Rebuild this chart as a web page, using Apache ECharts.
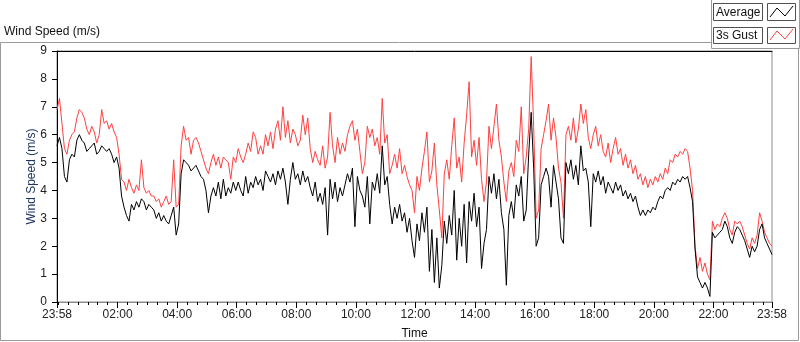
<!DOCTYPE html>
<html>
<head>
<meta charset="utf-8">
<title>Wind Speed</title>
<script src="https://cdn.jsdelivr.net/npm/echarts@6/dist/echarts.min.js"></script>
<style>
  html, body { margin: 0; padding: 0; background: #fff; }
  #chart { width: 800px; height: 342px; }
</style>
</head>
<body>
<div id="chart"></div>
<script>
// one sample every 5 minutes, starting at 23:58 the day before
const stepMinutes = 5
const startClock = '23:58'
const timeLabels = ['23:58', '02:00', '04:00', '06:00', '08:00', '10:00', '12:00',
  '14:00', '16:00', '18:00', '20:00', '22:00', '23:58']
const seriesNames = ['Average', '3s Gust']

const avgSpeed = [
  5.6, 5.9, 5.5, 4.5, 4.3, 5.1, 5.3, 5.2, 5.8, 6.0,
  5.8, 5.7, 5.4, 5.5, 5.6, 5.7, 5.3, 5.4, 5.6, 5.5,
  5.4, 5.5, 5.3, 5.0, 5.2, 4.8, 3.8, 3.4, 3.1, 2.9,
  3.5, 3.3, 3.6, 3.4, 3.7, 3.6, 3.3, 3.5, 3.4, 3.3,
  3.0, 3.2, 2.9, 3.1, 2.9, 2.8, 3.1, 3.4,
  2.4, 2.8, 4.6, 5.1, 5.0, 4.9, 4.7, 4.8, 4.9, 4.7,
  4.5, 4.4, 4.0, 3.2, 3.8, 4.1, 3.8, 4.3, 3.7, 4.4,
  3.8, 4.1, 3.9, 4.3, 4.0, 4.3, 4.0, 3.8, 4.5, 3.9,
  4.3, 4.1, 4.5, 4.2, 4.4, 4.0, 4.7, 4.5, 4.3, 4.6,
  4.2, 4.7, 4.4, 4.8, 4.3, 3.5, 4.4, 5.0,
  4.4, 4.6, 4.2, 4.7, 4.3, 4.5, 4.1, 3.8, 4.3, 3.6,
  3.9, 3.5, 4.1, 2.4, 4.4, 3.7, 4.3, 3.6, 4.1, 3.8,
  4.2, 4.6, 4.3, 4.8, 2.7, 4.5, 4.0, 3.8, 3.4, 4.5,
  2.8, 4.3, 4.0, 4.6, 3.9, 5.6, 4.2, 4.5, 3.5, 2.8,
  3.4, 3.0, 3.5, 2.9, 3.2, 2.5, 3.0, 2.2, 1.6,
  2.8, 2.2, 3.2, 2.5, 3.4, 1.1, 2.6, 0.7, 2.3, 0.5,
  1.3, 2.9, 2.1, 3.1, 2.4, 4.0, 1.5, 3.0, 2.0, 3.5,
  1.4, 3.6, 2.9, 3.9, 2.7, 3.4, 1.2, 2.1, 2.6, 4.5,
  3.9, 4.6, 3.7, 4.4, 3.2, 2.6, 0.6, 3.1, 3.6, 3.0,
  4.2, 3.8, 4.5, 2.9, 3.3, 5.3, 6.8, 4.8,
  2.0, 2.3, 4.2, 4.5, 4.8, 4.5, 3.4, 4.9, 4.3, 3.7,
  2.3, 2.1, 5.0, 4.6, 5.1, 4.4, 4.9, 4.2, 5.6, 4.7,
  4.8, 4.3, 2.7, 4.6, 4.3, 4.7, 4.2, 4.5, 3.9, 4.3,
  4.1, 3.9, 4.3, 4.0, 4.2, 3.8, 4.0, 3.7, 3.9, 3.6,
  3.8, 3.4, 3.1, 3.3, 3.1, 3.3, 3.2, 3.4,
  3.3, 3.6, 3.8, 3.7, 4.0, 4.1, 4.0, 4.3, 4.2, 4.4,
  4.3, 4.5, 4.4, 4.5, 4.1, 3.6, 1.9, 0.9, 0.7, 0.5,
  0.7, 0.5, 0.2, 2.5, 2.3, 2.4, 2.5, 2.6, 2.9, 2.7,
  2.3, 2.1, 2.5, 2.7, 2.6, 2.4, 2.2, 1.9, 1.6, 2.0,
  1.8, 2.0, 2.6, 2.8, 2.3, 2.1, 1.9, 1.7
]

const gustSpeed = [
  6.9, 7.3, 6.4, 5.5, 5.3, 5.8, 6.0, 6.1, 6.6, 6.9,
  6.8, 6.6, 6.2, 6.0, 6.3, 6.1, 5.7, 6.0, 6.9, 6.4,
  6.5, 6.2, 6.4, 6.1, 5.9, 5.3, 4.4, 4.3, 4.0, 4.4,
  4.1, 3.9, 4.2, 4.0, 5.1, 4.1, 3.9, 4.0, 3.8, 3.8,
  3.6, 3.7, 3.4, 3.6, 3.8, 3.5, 3.6, 5.1,
  3.4, 3.5, 5.6, 6.3, 5.8, 5.9, 5.3, 5.8, 5.9, 5.7,
  5.4, 5.1, 4.8, 4.6, 5.0, 5.3, 4.9, 5.2, 4.8, 5.2,
  5.1, 5.0, 4.4, 5.2, 5.0, 5.5, 5.2, 5.0, 5.3, 5.7,
  5.4, 6.1, 5.9, 5.3, 5.6, 5.3, 6.0, 5.6, 6.1, 5.5,
  6.2, 6.5, 5.8, 7.0, 5.9, 6.5, 5.7, 6.2,
  6.0, 5.6, 5.8, 6.7, 6.0, 6.6, 5.5, 5.0, 5.4, 5.1,
  4.9, 5.6, 4.8, 5.2, 6.8, 5.6, 5.0, 5.9, 5.3, 5.7,
  5.4, 6.0, 6.3, 6.5, 5.8, 6.2, 5.4, 4.6, 5.0, 6.3,
  5.9, 6.2, 5.6, 5.9, 5.3, 7.3, 5.7, 6.0, 4.6, 4.9,
  5.3, 4.8, 5.5, 4.6, 4.9, 4.5, 4.2, 4.0, 3.2,
  4.5, 4.0, 4.8, 5.4, 6.1, 4.3, 4.7, 5.7, 4.2, 3.3,
  2.3, 4.6, 5.1, 4.4, 5.6, 6.6, 4.8, 5.2, 4.3, 5.7,
  6.7, 7.9, 5.2, 5.8, 4.9, 5.9, 4.4, 3.6, 4.3, 6.3,
  5.5, 6.3, 7.1, 5.8, 5.2, 4.3, 3.6, 4.7, 5.0, 4.5,
  5.8, 5.4, 7.0, 4.6, 5.2, 6.2, 8.8, 6.3,
  3.0, 3.3, 5.5, 6.0, 6.5, 7.1, 5.8, 6.6, 5.9, 4.8,
  4.3, 3.0, 6.0, 6.3, 5.8, 6.6, 5.7, 6.2, 7.1, 6.4,
  6.9, 5.9, 5.5, 6.0, 6.3, 5.6, 6.0, 5.4, 5.2, 5.7,
  5.0, 5.5, 5.9, 5.3, 5.5, 4.9, 5.3, 4.8, 5.1, 4.6,
  4.9, 4.4, 4.6, 4.2, 4.5, 4.1, 4.4, 4.2,
  4.5, 4.3, 4.6, 4.4, 4.8, 4.6, 5.1, 5.0, 5.3, 5.2,
  5.4, 5.3, 5.5, 5.4, 4.8, 4.0, 2.0, 1.2, 1.6, 1.1,
  1.4, 1.0, 0.8, 2.9, 2.6, 2.8, 2.7, 3.0, 3.2, 3.0,
  2.6, 2.4, 2.9, 2.8, 2.9, 2.7, 2.4, 2.1, 1.9, 2.3,
  2.1, 2.4, 3.2, 2.9, 2.5, 2.3, 2.1, 2.0
]

const FONT = 'Liberation Sans, Arial, sans-serif'
const SPAN = 24 * 60

function clockToMin (s) {
  const p = s.split(':')
  return parseInt(p[0], 10) * 60 + parseInt(p[1], 10)
}
const startMin = clockToMin(startClock)

// label positions in minutes from the start; the last one closes the day
const labelMinutes = timeLabels.map(function (s, i) {
  if (i === timeLabels.length - 1) return SPAN
  return (clockToMin(s) - startMin + SPAN) % SPAN
})
// small ticks every 20 minutes on the clock
const minorMinutes = [0]
for (let m = (SPAN - startMin) % 20; m <= SPAN; m += 20) minorMinutes.push(m)
minorMinutes.push(SPAN)

function fmtClock (v) {
  const t = (startMin + Math.round(v)) % SPAN
  const h = Math.floor(t / 60)
  const mm = t % 60
  return (h < 10 ? '0' : '') + h + ':' + (mm < 10 ? '0' : '') + mm
}

function toPoints (arr) {
  return arr.map(function (v, i) { return [i * stepMinutes, v] })
}

const chart = echarts.init(document.getElementById('chart'), null, { renderer: 'canvas' })

const option = {
  animation: false,
  backgroundColor: '#fff',
  textStyle: { fontFamily: FONT },
  title: {
    text: 'Wind Speed (m/s)',
    left: 4,
    top: 26,
    padding: 0,
    textStyle: { fontSize: 12, fontWeight: 'normal', color: '#111', fontFamily: FONT }
  },
  grid: {
    left: 57,
    top: 51,
    width: 715,
    height: 251,
    show: true,
    borderColor: '#8c8c8c',
    borderWidth: 1,
    backgroundColor: '#fff',
    outerBoundsMode: 'none'
  },
  xAxis: [
    {
      type: 'value',
      min: 0,
      max: SPAN,
      name: 'Time',
      nameLocation: 'middle',
      nameGap: 26,
      nameMoveOverlap: false,
      nameTextStyle: { fontSize: 12, color: '#111', fontFamily: FONT },
      axisLine: { show: true, lineStyle: { color: '#8c8c8c', width: 1 } },
      axisTick: { show: true, length: 3, customValues: minorMinutes, lineStyle: { color: '#000' } },
      axisLabel: {
        customValues: labelMinutes,
        formatter: fmtClock,
        fontSize: 12,
        color: '#222',
        margin: 7,
        fontFamily: FONT
      },
      splitLine: { show: false }
    },
    {
      type: 'value',
      min: 0,
      max: SPAN,
      position: 'bottom',
      axisLine: { show: false },
      axisTick: { show: true, length: 6, customValues: labelMinutes, lineStyle: { color: '#000', width: 1 } },
      axisLabel: { show: false },
      splitLine: { show: false }
    },
    {
      type: 'value',
      min: 0,
      max: SPAN,
      position: 'top',
      axisLine: { show: true, lineStyle: { color: '#000', width: 1 } },
      axisTick: { show: false },
      axisLabel: { show: false },
      splitLine: { show: false }
    }
  ],
  yAxis: {
    type: 'value',
    min: 0,
    max: 9,
    interval: 1,
    name: 'Wind Speed (m/s)',
    nameLocation: 'middle',
    nameGap: 19,
    nameMoveOverlap: false,
    nameTextStyle: { fontSize: 12, color: '#1d3560', fontFamily: FONT },
    axisLine: { show: true, lineStyle: { color: '#000', width: 1 } },
    axisTick: { show: true, length: 5, lineStyle: { color: '#000' } },
    axisLabel: { fontSize: 12, color: '#222', margin: 10, fontFamily: FONT },
    splitLine: { show: false }
  },
  series: [
    {
      name: seriesNames[1],
      type: 'line',
      data: toPoints(gustSpeed),
      showSymbol: false,
      lineStyle: { color: '#ff4040', width: 1 },
      itemStyle: { color: '#ff4040' },
      z: 2
    },
    {
      name: seriesNames[0],
      type: 'line',
      data: toPoints(avgSpeed),
      showSymbol: false,
      lineStyle: { color: '#000', width: 1 },
      itemStyle: { color: '#000' },
      z: 3
    }
  ],
  graphic: [
    {
      type: 'rect',
      silent: true,
      z: -10,
      shape: { x: 0.5, y: 42.5, width: 798, height: 298 },
      style: { fill: null, stroke: '#9a9a9a', lineWidth: 1 }
    },
    {
      type: 'rect',
      silent: true,
      shape: { x: 711.5, y: -2, width: 88, height: 50.5 },
      style: { fill: '#fff', stroke: '#9a9a9a', lineWidth: 1 }
    },
    {
      type: 'rect',
      silent: true,
      shape: { x: 713.5, y: 3.5, width: 49, height: 17 },
      style: { fill: '#fff', stroke: '#505050', lineWidth: 1 }
    },
    {
      type: 'text',
      silent: true,
      style: { x: 716, y: 12.5, text: seriesNames[0], fill: '#111', fontSize: 12, fontFamily: FONT, verticalAlign: 'middle' }
    },
    {
      type: 'rect',
      silent: true,
      shape: { x: 767.5, y: 3.5, width: 28, height: 17 },
      style: { fill: '#fff', stroke: '#505050', lineWidth: 1 }
    },
    {
      type: 'polyline',
      silent: true,
      shape: { points: [[770, 17], [777, 8], [785, 16], [793, 6]] },
      style: { stroke: '#000', lineWidth: 1, fill: null }
    },
    {
      type: 'rect',
      silent: true,
      shape: { x: 713.5, y: 27.5, width: 49, height: 16 },
      style: { fill: '#fff', stroke: '#505050', lineWidth: 1 }
    },
    {
      type: 'text',
      silent: true,
      style: { x: 716, y: 36, text: seriesNames[1], fill: '#111', fontSize: 12, fontFamily: FONT, verticalAlign: 'middle' }
    },
    {
      type: 'rect',
      silent: true,
      shape: { x: 767.5, y: 27.5, width: 28, height: 16 },
      style: { fill: '#fff', stroke: '#505050', lineWidth: 1 }
    },
    {
      type: 'polyline',
      silent: true,
      shape: { points: [[770, 40], [777, 31], [785, 39], [793, 29]] },
      style: { stroke: '#ff4040', lineWidth: 1, fill: null }
    }
  ]
}

chart.setOption(option)
</script>
</body>
</html>
